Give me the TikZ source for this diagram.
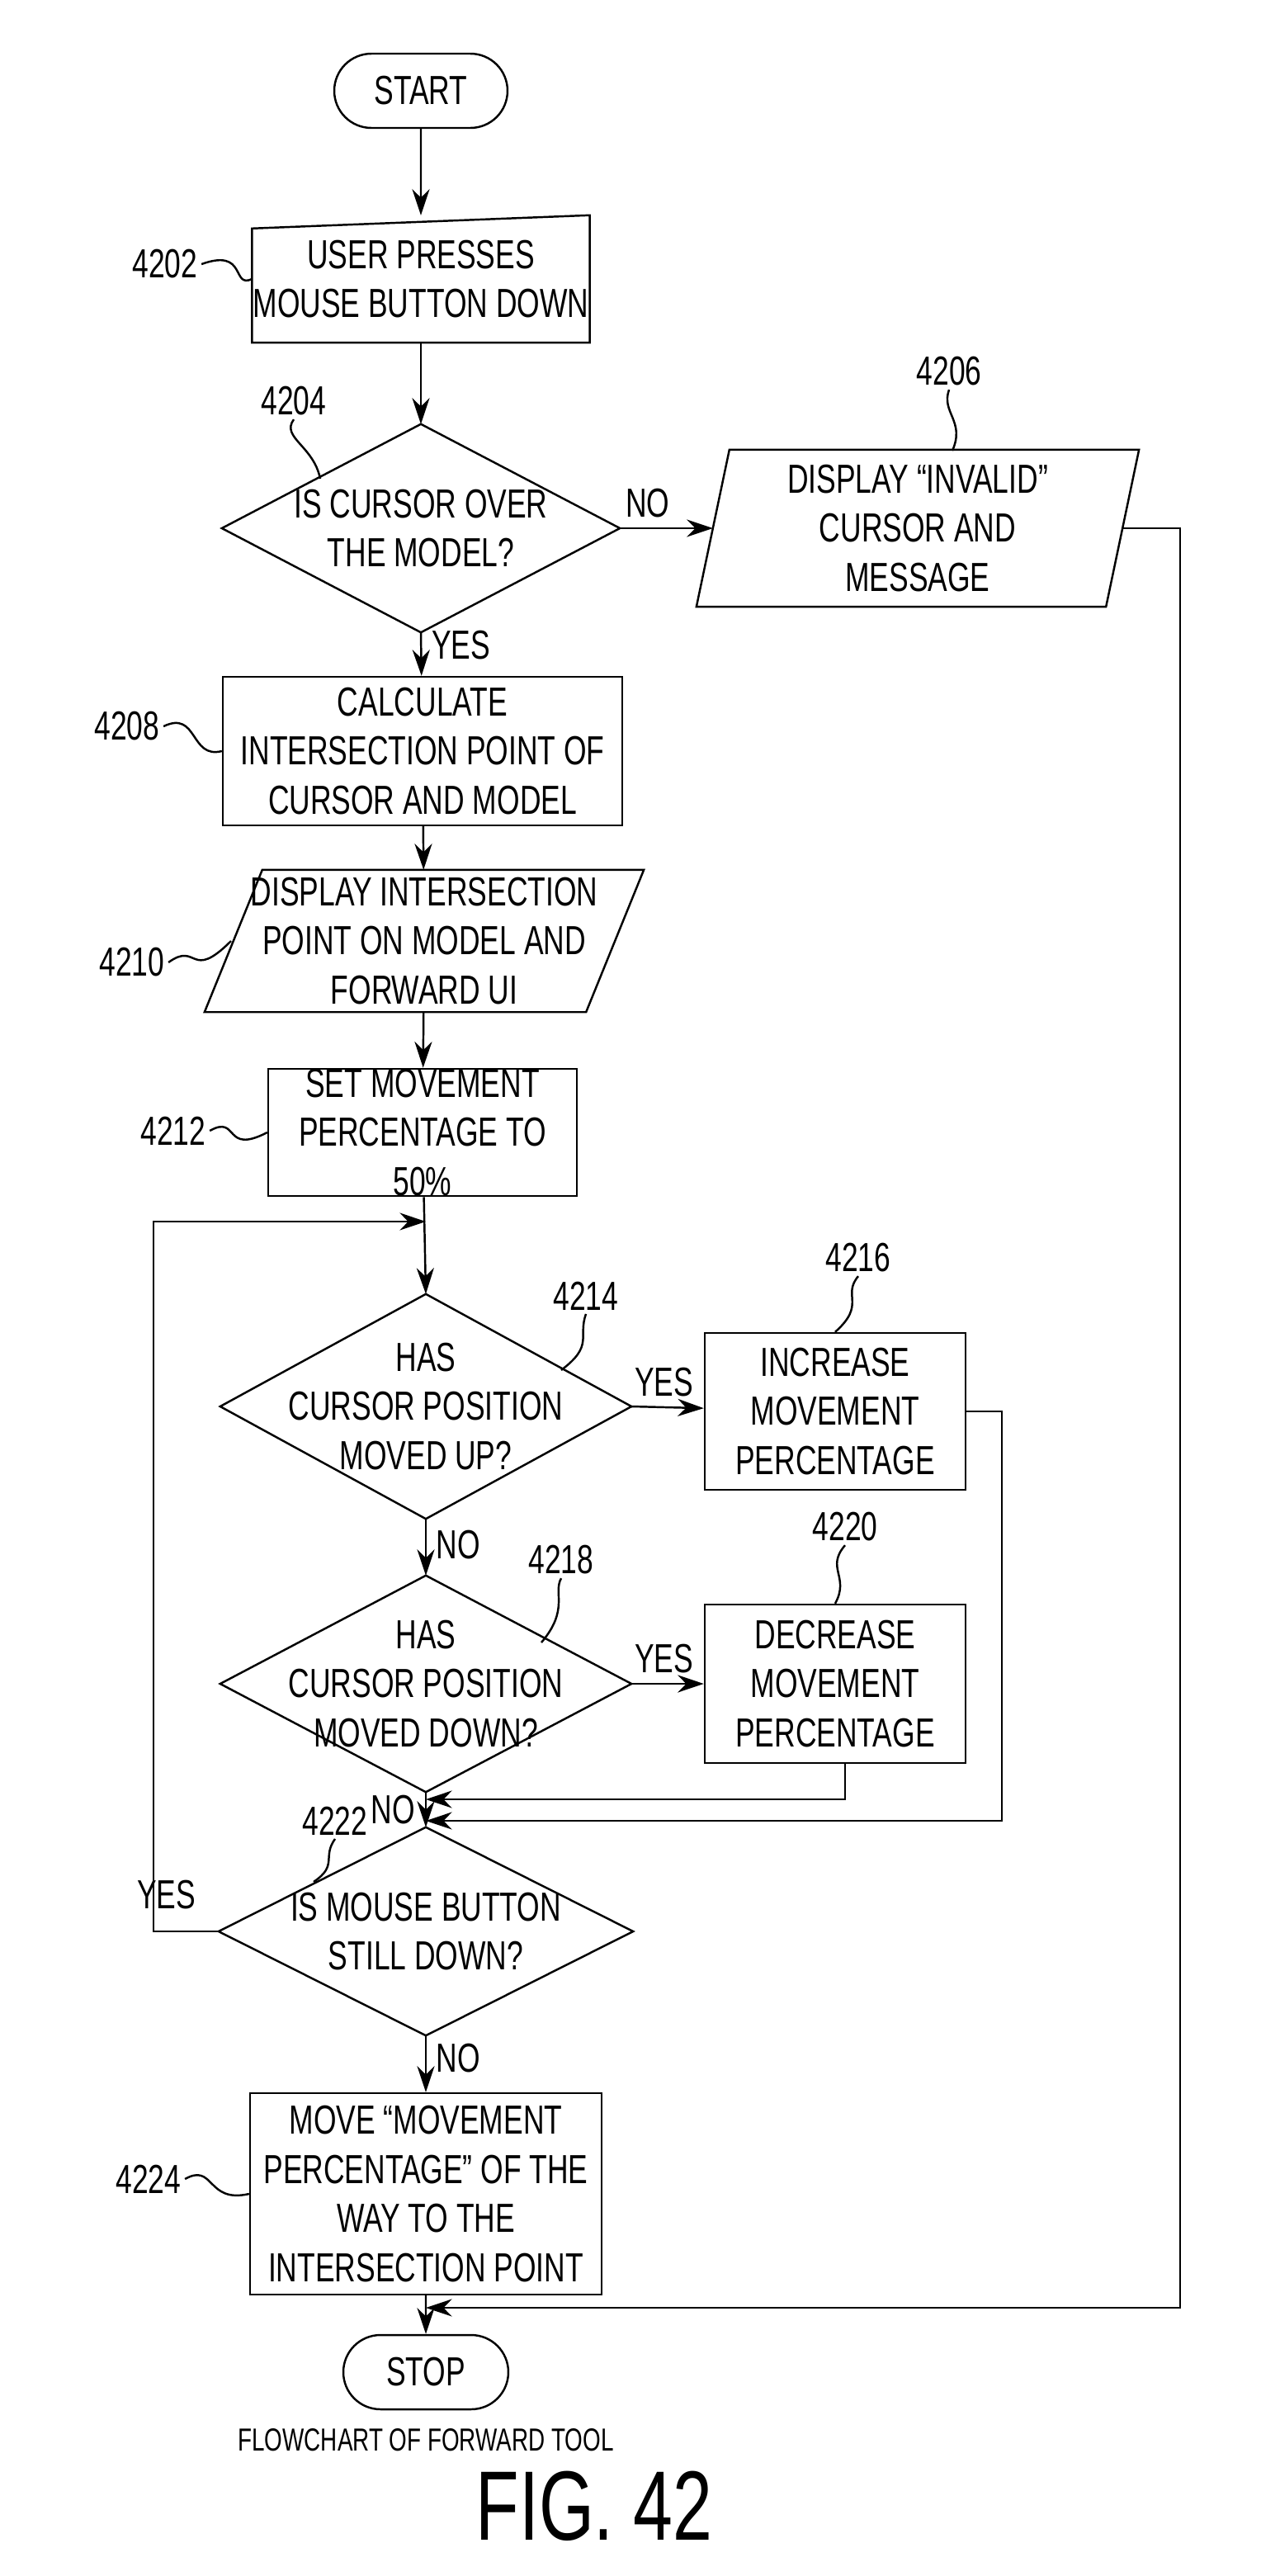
\documentclass[tikz,border=0pt]{standalone}
\usepackage{fontspec}
\setmainfont{Liberation Sans}[FakeStretch=0.72]
\usetikzlibrary{positioning,shapes.misc,calc,arrows.meta}
\begin{document}
\begin{tikzpicture}[x=0.02cm,y=-0.02cm,font=\fontsize{14}{17}\selectfont,
  every path/.style={line width=0.7pt},
  arr/.style={-{Stealth[length=9pt,width=6pt]}},
  box/.style={draw,rectangle,align=center,inner sep=0pt},
  free/.style={rectangle,align=center,inner sep=0pt},
  term/.style={draw,rounded rectangle,inner sep=0pt,minimum width=2.1cm,minimum height=0.9cm},
  lbl/.style={inner sep=1pt}]
\useasboundingbox (0,0) rectangle (763.5,1560.5);
% shapes
\node[term] (start) at (255,55) {START};
\node[free,minimum width=3.6cm,minimum height=1.52cm] (n4202) at (255,169) {USER PRESSES\\MOUSE BUTTON DOWN};
\draw (n4202.south west) -- (n4202.south east) -- (n4202.north east) -- ($(n4202.north west)+(0,8)$) -- cycle;
\node[free,minimum width=4.8cm,minimum height=2.5cm] (n4204) at (255,320) {IS CURSOR OVER\\THE MODEL?};
\draw (n4204.north) -- (n4204.east) -- (n4204.south) -- (n4204.west) -- cycle;
\node[free,minimum width=5.34cm,minimum height=1.88cm] (n4206) at (556,320) {DISPLAY “INVALID”\\CURSOR AND\\MESSAGE};
\draw (n4206.south west) -- ($(n4206.south east)+(-20,0)$) -- (n4206.north east) -- ($(n4206.north west)+(20,0)$) -- cycle;
\node[box,minimum width=4.84cm,minimum height=1.8cm] (n4208) at (256,455) {CALCULATE\\INTERSECTION POINT OF\\CURSOR AND MODEL};
\node[free,minimum width=5.3cm,minimum height=1.7cm] (n4210) at (257,570) {DISPLAY INTERSECTION\\POINT ON MODEL AND\\FORWARD UI};
\draw (n4210.south west) -- ($(n4210.south east)+(-35,0)$) -- (n4210.north east) -- ($(n4210.north west)+(35,0)$) -- cycle;
\node[box,minimum width=3.74cm,minimum height=1.36cm] (n4212) at (256,686) {SET MOVEMENT\\PERCENTAGE TO\\50\%};
\node[free,minimum width=4.96cm,minimum height=2.7cm] (n4214) at (258,852) {HAS\\CURSOR POSITION\\MOVED UP?};
\draw (n4214.north) -- (n4214.east) -- (n4214.south) -- (n4214.west) -- cycle;
\node[box,minimum width=3.16cm,minimum height=1.9cm] (n4216) at (506,855) {INCREASE\\MOVEMENT\\PERCENTAGE};
\node[free,minimum width=4.96cm,minimum height=2.6cm] (n4218) at (258,1020) {HAS\\CURSOR POSITION\\MOVED DOWN?};
\draw (n4218.north) -- (n4218.east) -- (n4218.south) -- (n4218.west) -- cycle;
\node[box,minimum width=3.16cm,minimum height=1.92cm] (n4220) at (506,1020) {DECREASE\\MOVEMENT\\PERCENTAGE};
\node[free,minimum width=5cm,minimum height=2.5cm] (n4222) at (258,1170) {IS MOUSE BUTTON\\STILL DOWN?};
\draw (n4222.north) -- (n4222.east) -- (n4222.south) -- (n4222.west) -- cycle;
\node[box,minimum width=4.26cm,minimum height=2.44cm] (n4224) at (258,1329) {MOVE “MOVEMENT\\PERCENTAGE” OF THE\\WAY TO THE\\INTERSECTION POINT};
\node[term,minimum width=2cm] (stop) at (258,1437) {STOP};
\node[font=\fontsize{11}{13}\selectfont] (cap) at (258,1478) {FLOWCHART OF FORWARD TOOL};
\node[font=\fontsize{34}{40}\selectfont] (fig) at (360,1518) {FIG. 42};
% merge points
\coordinate (m1) at (258,1090);
\coordinate (m2) at (258,1103);
\coordinate (m3) at (258,740);
\coordinate (m4) at (258,1398);
% connectors
\draw[arr] (start) -- (n4202);
\draw[arr] (n4202) -- (n4204);
\draw[arr] (n4204.east) -- node[above,pos=0.3]{NO} ($(n4206.west)+(10,0)$);
\draw[arr] (n4204.south) -- node[right,pos=0.3]{YES} (n4208);
\draw[arr] (n4208) -- (n4210);
\draw[arr] (n4210) -- (n4212);
\draw[arr] (n4212) -- (n4214.north);
\draw[arr] (n4214.east) -- node[above,pos=0.45]{YES} (n4216);
\draw[arr] (n4214.south) -- node[right,pos=0.45]{NO} (n4218.north);
\draw[arr] (n4218.east) -- node[above,pos=0.45]{YES} (n4220);
\draw[arr] (n4218.south) -- node[left,pos=0.5]{NO} (n4222.north);
\draw[arr] (n4220.south -| 512,0) |- (m1);
\draw[arr] (n4216.east) -| (607,1103) -- (m2);
\draw[arr] (n4222.west) -- node[above,pos=0.8,yshift=4pt]{YES} (93,1170) |- (m3);
\draw[arr] (n4222.south) -- node[right,pos=0.4]{NO} (n4224);
\draw[arr] (n4224) -- (stop);
\draw[arr] ($(n4206.east)+(-10,0)$) -| (715,1398) -- (m4);
% reference labels
\node[lbl] (l4202) at (100,160) {4202};
\draw (l4202.east) .. controls (150,150) and (140,175) .. (n4202.west);
\node[lbl] (l4204) at (178,243) {4204};
\draw (l4204.south) .. controls (170,265) and (190,270) .. (194,290);
\node[lbl] (l4206) at (575,225) {4206};
\draw (l4206.south) .. controls (570,250) and (585,255) .. (577,273);
\node[lbl] (l4208) at (77,440) {4208};
\draw (l4208.east) .. controls (120,430) and (115,460) .. (n4208.west);
\node[lbl] (l4210) at (80,583) {4210};
\draw (l4210.east) .. controls (120,570) and (115,595) .. (140,570);
\node[lbl] (l4212) at (105,685) {4212};
\draw (l4212.east) .. controls (145,675) and (135,700) .. (n4212.west);
\node[lbl] (l4214) at (355,785) {4214};
\draw (l4214.south) .. controls (350,810) and (360,815) .. (340,830);
\node[lbl] (l4216) at (520,762) {4216};
\draw (l4216.south) .. controls (510,785) and (525,790) .. (n4216.north);
\node[lbl] (l4218) at (340,945) {4218};
\draw (l4218.south) .. controls (335,965) and (345,975) .. (328,995);
\node[lbl] (l4220) at (512,925) {4220};
\draw (l4220.south) .. controls (500,950) and (515,955) .. (n4220.north);
\node[lbl] (l4222) at (203,1103) {4222};
\draw (l4222.south) .. controls (195,1125) and (205,1130) .. (190,1140);
\node[lbl] (l4224) at (90,1320) {4224};
\draw (l4224.east) .. controls (130,1310) and (125,1335) .. (n4224.west);
\end{tikzpicture}
\end{document}
